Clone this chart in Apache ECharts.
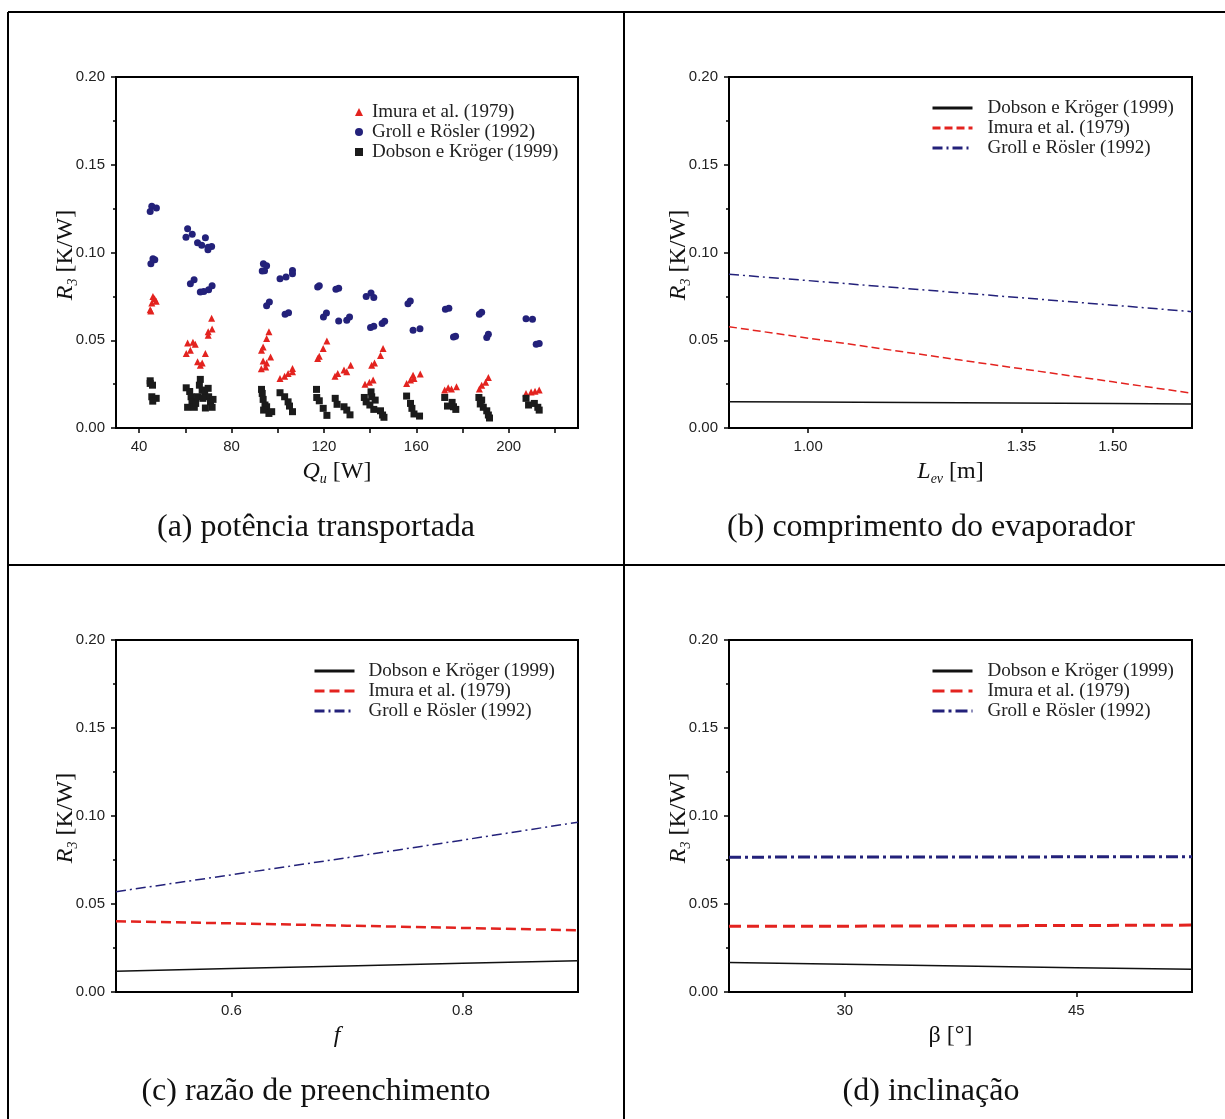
<!DOCTYPE html>
<html lang="pt">
<head>
  <meta charset="UTF-8">
  <title>R3 - resistência térmica</title>
  <script src="https://cdn.jsdelivr.net/npm/echarts@6/dist/echarts.min.js"></script>
</head>
<body style="margin: 0; background: #fff;">
  <div id="main" style="width: 1225px; height: 1119px;"></div>

  <script>
  // (a) potência transportada: pontos [Qu, R3]
  const imuraPts = [
    [46.0,0.0750],[46.7,0.0737],[47.4,0.0722],[45.5,0.0712],[44.8,0.0674],[45.1,0.0667],
    [61.0,0.0485],[63.3,0.0489],[64.3,0.0477],[62.2,0.0443],[60.4,0.0424],[65.3,0.0377],[67.3,0.0371],
    [66.5,0.0358],[68.7,0.0424],[71.4,0.0625],[71.6,0.0564],[69.9,0.0549],[69.9,0.0528],
    [96.2,0.0549],[95.2,0.0510],[93.7,0.0462],[93.0,0.0443],[93.7,0.0382],[95.2,0.0371],[94.8,0.0348],
    [92.9,0.0337],[96.9,0.0405],
    [101.0,0.0282],[103.0,0.0295],[104.5,0.0311],[106.4,0.0339],[106.4,0.0320],
    [121.3,0.0496],[119.7,0.0453],[117.3,0.0396],[118.0,0.0409],
    [124.8,0.0295],[126.0,0.0311],[129.9,0.0320],[131.6,0.0358],[128.7,0.0330],
    [137.8,0.0250],[139.7,0.0261],[141.3,0.0273],[140.7,0.0358],[141.9,0.0371],[144.5,0.0413],[145.6,0.0453],
    [155.8,0.0254],[157.5,0.0273],[158.6,0.0301],[161.7,0.0307],[159.0,0.0282],
    [172.3,0.0216],[173.8,0.0229],[175.2,0.0222],[177.4,0.0235],
    [187.3,0.0222],[188.3,0.0244],[190.0,0.0260],[191.2,0.0288],
    [207.5,0.0197],[209.7,0.0205],[211.4,0.0210],[213.2,0.0216]
  ];
  const grollPts = [
    [45.5,0.1263],[47.5,0.1254],[44.8,0.1233],[46.0,0.0964],[46.8,0.0959],[45.1,0.0936],
    [61.0,0.1135],[63.0,0.1104],[60.3,0.1087],[65.3,0.1055],[67.1,0.1042],[68.7,0.1084],[69.9,0.1030],
    [71.4,0.1034],[69.8,0.1015],
    [63.8,0.0845],[62.2,0.0822],[66.5,0.0775],[68.0,0.0778],[70.1,0.0788],[71.6,0.0811],
    [93.8,0.0936],[95.2,0.0924],[93.3,0.0894],[94.3,0.0896],[96.4,0.0718],[95.2,0.0697],
    [101.0,0.0851],[103.6,0.0860],[106.4,0.0898],[106.4,0.0879],[103.2,0.0648],[104.7,0.0657],
    [117.3,0.0803],[118.0,0.0811],[119.8,0.0633],[121.1,0.0655],
    [125.2,0.0790],[126.4,0.0797],[126.4,0.0610],[129.9,0.0614],[131.1,0.0633],
    [138.3,0.0750],[140.4,0.0769],[141.6,0.0743],[140.2,0.0572],[141.6,0.0580],[145.2,0.0595],[146.3,0.0608],
    [156.4,0.0708],[157.4,0.0723],[158.6,0.0557],[161.6,0.0566],
    [172.6,0.0676],[174.1,0.0682],[176.1,0.0519],[177.0,0.0523],
    [187.3,0.0648],[188.3,0.0659],[190.5,0.0515],[191.2,0.0534],
    [207.5,0.0623],[210.3,0.0619],[211.9,0.0477],[213.2,0.0481]
  ];
  const dobsonPts = [
    [44.8,0.0269],[44.8,0.0254],[45.8,0.0244],[45.5,0.0178],[47.4,0.0169],[45.9,0.0153],
    [60.4,0.0229],[61.9,0.0208],[62.5,0.0178],[62.9,0.0149],[61.0,0.0118],[63.9,0.0118],[64.5,0.0140],
    [65.3,0.0178],[66.5,0.0277],[66.1,0.0244],[67.3,0.0216],[68.4,0.0201],[69.9,0.0226],[70.1,0.0178],
    [70.9,0.0149],[72.0,0.0163],[68.7,0.0114],[71.6,0.0118],[67.6,0.0169],
    [93.0,0.0220],[93.3,0.0197],[93.7,0.0163],[94.5,0.0131],[95.2,0.0121],[93.9,0.0102],[96.2,0.0083],[97.4,0.0093],
    [101.0,0.0201],[103.0,0.0178],[104.5,0.0149],[105.1,0.0125],[106.4,0.0093],
    [116.8,0.0220],[116.9,0.0174],[118.0,0.0155],[119.7,0.0112],[121.3,0.0072],
    [124.9,0.0169],[125.7,0.0135],[128.7,0.0121],[129.9,0.0102],[131.3,0.0075],
    [137.5,0.0174],[138.3,0.0149],[140.4,0.0206],[140.7,0.0178],[142.2,0.0159],[139.9,0.0131],[141.6,0.0106],
    [144.5,0.0098],[145.4,0.0074],[146.0,0.0061],
    [155.8,0.0182],[157.5,0.0140],[158.1,0.0112],[159.0,0.0080],[161.4,0.0068],
    [172.3,0.0174],[173.5,0.0125],[175.5,0.0146],[176.1,0.0121],[177.1,0.0106],
    [187.1,0.0174],[188.3,0.0159],[187.7,0.0137],[189.0,0.0118],[190.5,0.0098],[191.2,0.0074],[191.7,0.0057],
    [207.5,0.0169],[208.6,0.0131],[211.1,0.0140],[212.6,0.0118],[213.2,0.0102]
  ];

  // (b) comprimento do evaporador
  const lenX = [0.87, 1.00, 1.25, 1.50, 1.63];
  const lenDobson = [0.0150, 0.0148, 0.0144, 0.0140, 0.0137];
  const lenImura = [0.0577, 0.0512, 0.0387, 0.0263, 0.0198];
  const lenGroll = [0.0876, 0.0840, 0.0770, 0.0700, 0.0663];

  // (c) razão de preenchimento
  const fillX = [0.5, 0.6, 0.7, 0.8, 0.9];
  const fillDobson = [0.0118, 0.0133, 0.0148, 0.0163, 0.0177];
  const fillImura = [0.0402, 0.0390, 0.0377, 0.0364, 0.0351];
  const fillGroll = [0.0570, 0.0666, 0.0763, 0.0863, 0.0965];

  // (d) inclinação
  const incX = [22.5, 30, 37.5, 45, 52.5];
  const incDobson = [0.0168, 0.0158, 0.0148, 0.0138, 0.0129];
  const incImura = [0.0373, 0.0374, 0.0376, 0.0378, 0.0380];
  const incGroll = [0.0766, 0.0767, 0.0767, 0.0768, 0.0768];

  const captions = ['(a) potência transportada', '(b) comprimento do evaporador',
                    '(c) razão de preenchimento', '(d) inclinação'];
  const NAMES = ['Dobson e Kröger (1999)', 'Imura et al. (1979)', 'Groll e Rösler (1992)'];

  const SANS = '"Liberation Sans", Arial, sans-serif';
  const SERIF = '"Liberation Serif", "Times New Roman", serif';
  const RED = '#e3231f', NAVY = '#23217a', BLACK = '#111';

  const nameRich = {
    i: { fontFamily: SERIF, fontStyle: 'italic', fontSize: 24, lineHeight: 28, color: '#111', fill: '#111' },
    s: { fontFamily: SERIF, fontStyle: 'italic', fontSize: 14, lineHeight: 28, verticalAlign: 'bottom',
         color: '#111', fill: '#111' },
    n: { fontFamily: SERIF, fontSize: 24, lineHeight: 28, color: '#111', fill: '#111' }
  };

  const pair = (xs, ys) => xs.map((x, k) => [x, ys[k]]);
  const strip = name => name.split('|')[1];

  function yAxisFor(i) {
    return {
      type: 'value', gridIndex: i, min: 0, max: 0.2, interval: 0.05,
      axisLine: { show: true, lineStyle: { color: '#000', width: 2 } },
      axisTick: { show: true, length: 5, lineStyle: { color: '#000', width: 1.5 } },
      minorTick: { show: true, splitNumber: 2, length: 3, lineStyle: { color: '#000', width: 1.5 } },
      splitLine: { show: false },
      axisLabel: { formatter: v => v.toFixed(2), fontSize: 15, fontFamily: SANS, color: '#222', margin: 11 }
    };
  }

  function xAxisFor(i, min, max, ticks, labels, name, digits) {
    return {
      type: 'value', gridIndex: i, min: min, max: max,
      axisLine: { show: true, lineStyle: { color: '#000', width: 2 } },
      axisTick: { show: true, customValues: ticks, length: 5, lineStyle: { color: '#000', width: 1.5 } },
      splitLine: { show: false },
      axisLabel: { customValues: labels, formatter: v => v.toFixed(digits), fontSize: 15,
                   fontFamily: SANS, color: '#222', margin: 11 },
      name: name, nameLocation: 'middle', nameGap: 30,
      nameTextStyle: { rich: nameRich, padding: [0, 20, 0, 0] }
    };
  }

  function lineSeries(panel, idx, xs, ys, name, color, width, type) {
    return {
      name: panel + '|' + name, type: 'line', xAxisIndex: idx, yAxisIndex: idx,
      data: pair(xs, ys), symbol: 'none', smooth: false,
      lineStyle: { color: color, width: width, type: type },
      itemStyle: { color: color }
    };
  }

  function lineLegend(panel, left, top, textPad) {
    return {
      orient: 'vertical', left: left, top: top, padding: 0,
      itemWidth: 40, itemHeight: 14, itemGap: 0,
      data: NAMES.map(n => panel + '|' + n), formatter: strip,
      lineStyle: { width: 3 },
      itemStyle: { opacity: 0 },
      textStyle: { fontFamily: SERIF, fontSize: 19, color: '#222', lineHeight: 20, padding: [0, 0, 0, textPad] }
    };
  }

  const dashDot = [10, 4, 2, 4];

  const series = [
    { name: 'a|' + NAMES[2], type: 'scatter', xAxisIndex: 0, yAxisIndex: 0, data: grollPts,
      symbol: 'circle', symbolSize: 7, itemStyle: { color: NAVY, opacity: 1 } },
    { name: 'a|' + NAMES[1], type: 'scatter', xAxisIndex: 0, yAxisIndex: 0, data: imuraPts,
      symbol: 'triangle', symbolSize: 7, itemStyle: { color: RED, opacity: 1 } },
    { name: 'a|' + NAMES[0], type: 'scatter', xAxisIndex: 0, yAxisIndex: 0, data: dobsonPts,
      symbol: 'rect', symbolSize: 7, itemStyle: { color: '#1b1b1b', opacity: 1 } },

    lineSeries('b', 1, lenX, lenDobson, NAMES[0], BLACK, 1.5, 'solid'),
    lineSeries('b', 1, lenX, lenImura, NAMES[1], RED, 1.5, [8, 4]),
    lineSeries('b', 1, lenX, lenGroll, NAMES[2], NAVY, 1.5, dashDot),

    lineSeries('c', 2, fillX, fillDobson, NAMES[0], BLACK, 1.5, 'solid'),
    lineSeries('c', 2, fillX, fillImura, NAMES[1], RED, 2.5, [10, 5]),
    lineSeries('c', 2, fillX, fillGroll, NAMES[2], NAVY, 1.5, dashDot),

    lineSeries('d', 3, incX, incDobson, NAMES[0], BLACK, 1.5, 'solid'),
    lineSeries('d', 3, incX, incImura, NAMES[1], RED, 3, [12, 6]),
    lineSeries('d', 3, incX, incGroll, NAMES[2], NAVY, 3, [12, 4, 3, 4])
  ];

  const gridBase = { show: true, borderColor: '#000', borderWidth: 2, backgroundColor: 'transparent' };

  const frame = [
    [8, 12, 1225, 12], [8, 12, 8, 1119], [624, 12, 624, 1119], [8, 565, 1225, 565]
  ].map(p => ({
    type: 'line', shape: { x1: p[0], y1: p[1], x2: p[2], y2: p[3] },
    style: { stroke: '#000', lineWidth: 2 }, silent: true
  }));

  const capPos = [[316, 528], [931, 528], [316, 1092], [931, 1092]];
  const capText = captions.map((t, k) => ({
    type: 'text', x: capPos[k][0], y: capPos[k][1], silent: true,
    style: { text: t, fontFamily: SERIF, fontSize: 32, fill: '#111',
             textAlign: 'center', textVerticalAlign: 'middle' }
  }));

  // título do eixo y, girado 90°
  const yNamePos = [[66, 255], [679, 255], [66, 818], [679, 818]];
  const yNames = yNamePos.map(p => ({
    type: 'text', x: p[0], y: p[1], rotation: Math.PI / 2, silent: true,
    style: { text: '{i|R}{s|3}{n| [K/W]}', rich: nameRich, fill: '#111',
             textAlign: 'center', textVerticalAlign: 'middle' }
  }));

  const option = {
    animation: false,
    backgroundColor: '#fff',
    grid: [
      Object.assign({ left: 116, top: 77, width: 462, height: 351 }, gridBase),
      Object.assign({ left: 729, top: 77, width: 463, height: 351 }, gridBase),
      Object.assign({ left: 116, top: 640, width: 462, height: 352 }, gridBase),
      Object.assign({ left: 729, top: 640, width: 463, height: 352 }, gridBase)
    ],
    xAxis: [
      xAxisFor(0, 30, 230, [40, 60, 80, 100, 120, 140, 160, 180, 200, 220], [40, 80, 120, 160, 200],
               '{i|Q}{s|u}{n| [W]}', 0),
      xAxisFor(1, 0.87, 1.63, [1.00, 1.35, 1.50], [1.00, 1.35, 1.50], '{i|L}{s|ev}{n| [m]}', 2),
      xAxisFor(2, 0.5, 0.9, [0.6, 0.8], [0.6, 0.8], '{i|f}', 1),
      xAxisFor(3, 22.5, 52.5, [30, 45], [30, 45], '{n|β [°]}', 0)
    ],
    yAxis: [yAxisFor(0), yAxisFor(1), yAxisFor(2), yAxisFor(3)],
    legend: [
      {
        orient: 'vertical', left: 355, top: 102, padding: 0,
        itemWidth: 8, itemHeight: 8, itemGap: 0,
        data: [1, 2, 0].map(k => 'a|' + NAMES[k]), formatter: strip,
        textStyle: { fontFamily: SERIF, fontSize: 19, color: '#222', lineHeight: 20, padding: [0, 0, 0, 4] }
      },
      lineLegend('b', 931, 98, 10),
      lineLegend('c', 313, 661, 9),
      lineLegend('d', 931, 661, 10)
    ],
    graphic: frame.concat(capText, yNames),
    series: series
  };

  const chart = echarts.init(document.getElementById('main'));
  chart.setOption(option);
  </script>
</body>
</html>
